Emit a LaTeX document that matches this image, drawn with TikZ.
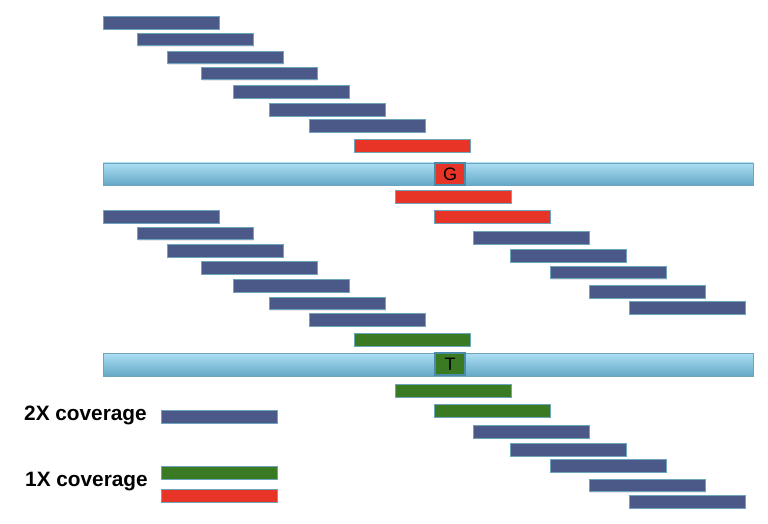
\documentclass[tikz,border=0pt]{standalone}
\usepackage{fontspec}
\setmainfont{Liberation Sans}
\usepackage{tikz}
\usetikzlibrary{shadows}
\definecolor{readblue}{RGB}{74,89,136}
\definecolor{readred}{RGB}{232,52,38}
\definecolor{readgreen}{RGB}{57,122,35}
\definecolor{readedge}{RGB}{110,165,190}
\definecolor{snpedge}{RGB}{74,140,168}
\definecolor{barlight}{RGB}{172,223,243}
\definecolor{bardark}{RGB}{100,168,198}

\begin{document}
\begin{tikzpicture}[x=1pt,y=-1pt,
  read/.style={draw=readedge, line width=0.6pt, anchor=north west, inner sep=0pt,
    minimum width=116pt, minimum height=12.6pt,
    drop shadow={opacity=0.18, shadow xshift=0.6pt, shadow yshift=-1pt}},
  refbar/.style={draw=readedge, line width=0.6pt, anchor=north west, inner sep=0pt,
    minimum width=650pt, minimum height=22.5pt, top color=barlight, bottom color=bardark},
  snp/.style={draw=snpedge, line width=2pt, inner sep=0pt,
    minimum width=30pt, minimum height=21.5pt, font=\fontsize{18}{18}\selectfont},
  legend/.style={anchor=base west, inner sep=0pt, font=\bfseries\fontsize{20.8}{24}\selectfont}
  ]
  \useasboundingbox (0,0) rectangle (768,523);

  % upper panel: reads above the reference
  \foreach \x/\y [count=\i] in {103/16, 137/32.7, 167/50.7, 201/66.7, 233/85, 269/103.3, 309/119}
    \node[read, fill=readblue] (ua\i) at (\x,\y) {};
  \node[read, fill=readred] (ua8) at (354,139.3) {};

  \node[refbar] (refa) at (103,162.5) {};
  \node[snp, fill=readred] (snpa) at (450,173.8) {G};

  % upper panel: reads below the reference
  \node[read, fill=readred] (ub1) at (395,190) {};
  \node[read, fill=readred] (ub2) at (434,210.3) {};
  \foreach \x/\y [count=\i from 3] in {473/231, 510/249.3, 550/265.7, 589/285, 629/301}
    \node[read, fill=readblue] (ub\i) at (\x,\y) {};

  % lower panel: reads above the reference
  \foreach \x/\y [count=\i] in {103/210.3, 137/226.7, 167/244.3, 201/261, 233/279, 269/296.7, 309/313.3}
    \node[read, fill=readblue] (la\i) at (\x,\y) {};
  \node[read, fill=readgreen] (la8) at (354,333.3) {};

  \node[refbar] (refb) at (103,353) {};
  \node[snp, fill=readgreen] (snpb) at (450,364.2) {T};

  % lower panel: reads below the reference
  \node[read, fill=readgreen] (lb1) at (395,384.3) {};
  \node[read, fill=readgreen] (lb2) at (434,404.3) {};
  \foreach \x/\y [count=\i from 3] in {473/425.3, 510/443.3, 550/459.3, 589/478.7, 629/495}
    \node[read, fill=readblue] (lb\i) at (\x,\y) {};

  % legend
  \node[legend] (twox) at (24,420) {2X coverage};
  \node[read, fill=readblue] (keyblue) at (161,410.3) {};
  \node[legend] (onex) at (25,486.7) {1X coverage};
  \node[read, fill=readgreen] (keygreen) at (161,466) {};
  \node[read, fill=readred] (keyred) at (161,489) {};

\end{tikzpicture}
\end{document}
